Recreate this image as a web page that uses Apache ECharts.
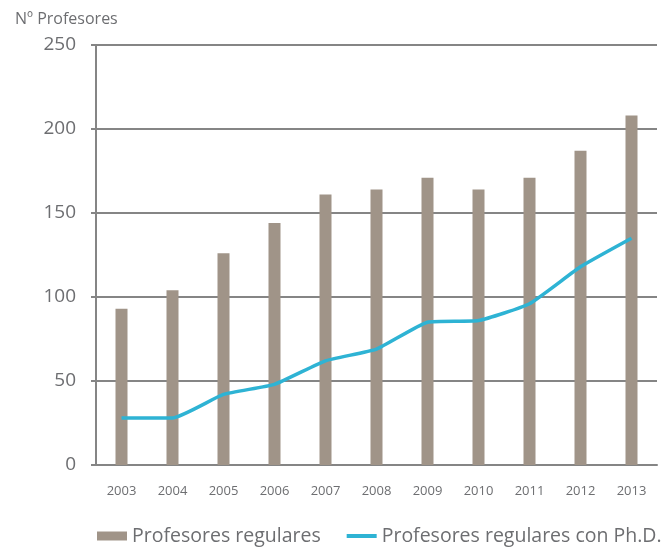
<!DOCTYPE html>
<html>
<head>
<meta charset="utf-8">
<script src="https://cdn.jsdelivr.net/npm/echarts@6/dist/echarts.min.js"></script>
<style>
  html, body { margin: 0; padding: 0; background: #fff; }
  #chart { width: 669px; height: 551px; }
</style>
</head>
<body>
<div id="chart"></div>
<script>
// datos
const years = ['2003', '2004', '2005', '2006', '2007', '2008', '2009', '2010', '2011', '2012', '2013']
const regulares = [93, 104, 126, 144, 161, 164, 171, 164, 171, 187, 208]
const conPhD = [28, 28, 42, 48, 62, 69, 85, 86, 96, 118, 135]

const textColor = '#6d6e71'
const axisColor = '#858585'
const fontFamily = '"Open Sans", Lato, sans-serif'

const myChart = echarts.init(document.getElementById('chart'))

myChart.setOption({
  backgroundColor: '#fff',
  animation: false,
  textStyle: { fontFamily: fontFamily },
  title: {
    text: 'Nº Profesores',
    left: 10,
    top: 6,
    textStyle: { color: textColor, fontSize: 16, fontWeight: 'normal', fontFamily: fontFamily }
  },
  grid: {
    left: 96,
    right: 12,
    top: 45,
    bottom: 86
  },
  legend: {
    bottom: 0,
    left: 92,
    itemGap: 26,
    itemWidth: 30,
    itemHeight: 9,
    textStyle: { color: textColor, fontSize: 19.5, fontFamily: fontFamily },
    data: [
      { name: 'Profesores regulares', icon: 'rect' },
      { name: 'Profesores regulares con Ph.D.', icon: 'path://M0,0H30V4H0Z' }
    ]
  },
  xAxis: {
    type: 'category',
    data: years,
    axisLine: { lineStyle: { color: axisColor, width: 2 } },
    axisTick: { show: false },
    axisLabel: { color: textColor, fontSize: 13, margin: 20 }
  },
  yAxis: {
    type: 'value',
    min: 0,
    max: 250,
    interval: 50,
    axisLine: { show: true, lineStyle: { color: axisColor, width: 2 } },
    axisTick: { show: true, length: 5, lineStyle: { color: axisColor, width: 2 } },
    splitLine: { lineStyle: { color: axisColor, width: 2 } },
    axisLabel: { color: textColor, fontSize: 19, margin: 20 }
  },
  series: [
    {
      name: 'Profesores regulares',
      type: 'bar',
      data: regulares,
      barWidth: 12,
      itemStyle: { color: '#a09488' },
      z: 1
    },
    {
      name: 'Profesores regulares con Ph.D.',
      type: 'line',
      data: conPhD,
      smooth: 0.15,
      symbol: 'none',
      lineStyle: { color: '#2eb3d4', width: 3.5 },
      itemStyle: { color: '#2eb3d4' },
      z: 3
    }
  ]
})

window.addEventListener('resize', () => {
  myChart.resize()
})
</script>
</body>
</html>
